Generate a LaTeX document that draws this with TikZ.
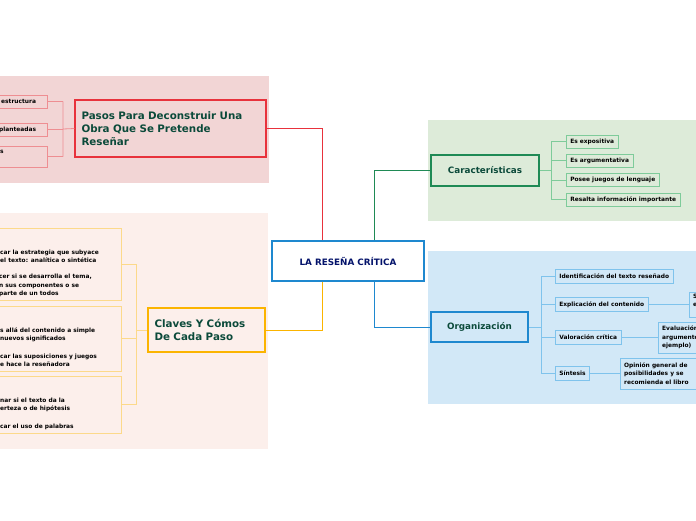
\documentclass[tikz,border=0pt]{standalone}
\usepackage{fontspec}
\setmainfont{DejaVu Sans}
\begin{document}
\begin{tikzpicture}[x=1pt,y=-1pt,
 box/.style={draw,line width=0.6pt,inner sep=0pt,font=\bfseries\fontsize{5.9}{8.3}\selectfont,text=black},
 main/.style={draw,line width=1.3pt,inner sep=0pt,font=\bfseries\fontsize{10.3}{12.8}\selectfont,text=titc,align=left},
 txt/.style={anchor=west,inner sep=0pt,font=\bfseries\fontsize{5.9}{8.3}\selectfont,align=left}]
\definecolor{titc}{HTML}{0B4A3A}
\definecolor{redc}{HTML}{E8323C}\definecolor{redl}{HTML}{EE8E92}\definecolor{redbg}{HTML}{F2D5D5}
\definecolor{yelc}{HTML}{FBB400}\definecolor{yell}{HTML}{FCD98A}\definecolor{yelbg}{HTML}{FCEFEB}
\definecolor{grnc}{HTML}{1F8A55}\definecolor{grnl}{HTML}{7ECB9A}\definecolor{grnbg}{HTML}{DDEBD9}
\definecolor{bluc}{HTML}{1E88CF}\definecolor{blul}{HTML}{7FC3EC}\definecolor{blubg}{HTML}{D2E8F7}
\useasboundingbox (0,0) rectangle (696,520);
\clip (0,0) rectangle (696,520);
\fill[white] (0,0) rectangle (696,520);
\fill[redbg] (-5,76) rectangle (269,183);
\fill[yelbg] (-5,213) rectangle (268,449);
\fill[grnbg] (428,120) rectangle (700,221);
\fill[blubg] (428,251) rectangle (700,404);
% center
\node[draw=bluc,line width=1.3pt,fill=white,minimum width=152pt,minimum height=40pt,font=\bfseries\fontsize{8.8}{10}\selectfont,text=titc!40!blue!60!black] (c) at (348,261) {LA RESEÑA CRÍTICA};
% red
\node[main,draw=redc,fill=redbg,minimum width=191pt,minimum height=57pt,text width=178pt] (r) at (170.5,128.5) {Pasos Para Deconstruir Una\\Obra Que Se Pretende\\Reseñar};
\node[box,draw=redl,fill=redbg,minimum width=80pt,minimum height=13pt] (r1) at (7,101.5) {};
\node[box,draw=redl,fill=redbg,minimum width=80pt,minimum height=13pt] (r2) at (7,129.5) {};
\node[box,draw=redl,fill=redbg,minimum width=80pt,minimum height=21pt] (r3) at (7,156.5) {};
\node[txt] at (1,101.5) {estructura};
\node[txt] at (-1,129.5) {planteadas};
\node[txt] at (0,152) {s};
\draw[redc,line width=0.8pt] (c.north -| 322,0) |- (r.east);
\draw[redl,line width=0.8pt] (r.west) -- (63,129) (63,101.5) -- (63,156.5) (r1.east) -- (63,101.5) (r2.east) -- (63,129.5) (r3.east) -- (63,156.5);
% yellow
\node[main,draw=yelc,fill=yelbg,minimum width=117pt,minimum height=44pt,text width=104pt] (y) at (206.5,330) {Claves Y Cómos\\De Cada Paso};
\node[box,draw=yell,fill=yelbg,minimum width=141pt,minimum height=72pt] (y1) at (50.5,264) {};
\node[box,draw=yell,fill=yelbg,minimum width=141pt,minimum height=65pt] (y2) at (50.5,338.5) {};
\node[box,draw=yell,fill=yelbg,minimum width=141pt,minimum height=57pt] (y3) at (50.5,404.5) {};
\node[txt] at (0,256) {car la estrategia que subyace\\el texto: analítica o sintética};
\node[txt] at (-1,285.5) {cer si se desarrolla el tema,\\n sus componentes o se\\ parte de un todos};
\node[txt] at (0,334.5) {s allá del contenido a simple\\ nuevos significados};
\node[txt] at (0,360) {car las suposiciones y juegos\\e hace la reseñadora};
\node[txt] at (0,405) {nar si el texto da la\\erteza o de hipótesis};
\node[txt] at (0,427) {car el uso de palabras};
\draw[yelc,line width=0.8pt] (c.south -| 322,0) |- (y.east);
\draw[yell,line width=0.8pt] (y.west) -- (136,330) (136,264) -- (136,404.5) (y1.east) -- (136,264) (y2.east) -- (136,338.5) (y3.east) -- (136,404.5);
% green
\node[main,draw=grnc,fill=grnbg,minimum width=108pt,minimum height=31pt,font=\bfseries\fontsize{8.8}{10}\selectfont,align=center] (g) at (485,170.5) {Características};
\foreach \n/\t/\yy in {g1/Es expositiva/141.5,g2/Es argumentativa/160.5,g3/Posee juegos de lenguaje/180,g4/Resalta información importante/199.5}{
 \node[box,draw=grnl,fill=grnbg,anchor=west,inner xsep=4pt,minimum height=13pt] (\n) at (566,\yy) {\t};
 \draw[grnl,line width=0.8pt] (551,\yy) -- (\n.west);}
\draw[grnc,line width=0.8pt] (c.north -| 374,0) |- (g.west);
\draw[grnl,line width=0.8pt] (g.east) -- (551,170.5) (551,141.5) -- (551,199.5);
% blue
\node[main,draw=bluc,fill=blubg,minimum width=97pt,minimum height=30pt,font=\bfseries\fontsize{8.8}{10}\selectfont,align=center] (b) at (479.5,327) {Organización};
\foreach \n/\t/\yy in {b1/Identificación del texto reseñado/276.5,b2/Explicación del contenido/304.5,b3/Valoración crítica/337.5,b4/Síntesis/373.5}{
 \node[box,draw=blul,fill=blubg,anchor=west,inner xsep=4pt,minimum height=14pt] (\n) at (555,\yy) {\t};
 \draw[blul,line width=0.8pt] (541,\yy) -- (\n.west);}
\draw[bluc,line width=0.8pt] (c.south -| 374,0) |- (b.west);
\draw[blul,line width=0.8pt] (b.east) -- (541,327) (541,276.5) -- (541,373.5);
\node[box,draw=blul,fill=blubg,anchor=west,minimum width=40pt,minimum height=25pt] (b2a) at (689,304.5) {};
\node[txt] at (693,300.5) {S\\e};
\node[box,draw=blul,fill=blubg,anchor=west,minimum width=60pt,minimum height=31pt] (b3a) at (658,337.5) {};
\node[txt] at (662,337.5) {Evaluación\\argumentos\\ejemplo)};
\node[box,draw=blul,fill=blubg,anchor=west,minimum width=100pt,minimum height=31pt] (b4a) at (620,373.5) {};
\node[txt] at (624,373.5) {Opinión general de\\posibilidades y se\\recomienda el libro};
\draw[blul,line width=0.8pt] (b2.east) -- (b2a.west) (b3.east) -- (b3a.west) (b4.east) -- (b4a.west);
\end{tikzpicture}
\end{document}
